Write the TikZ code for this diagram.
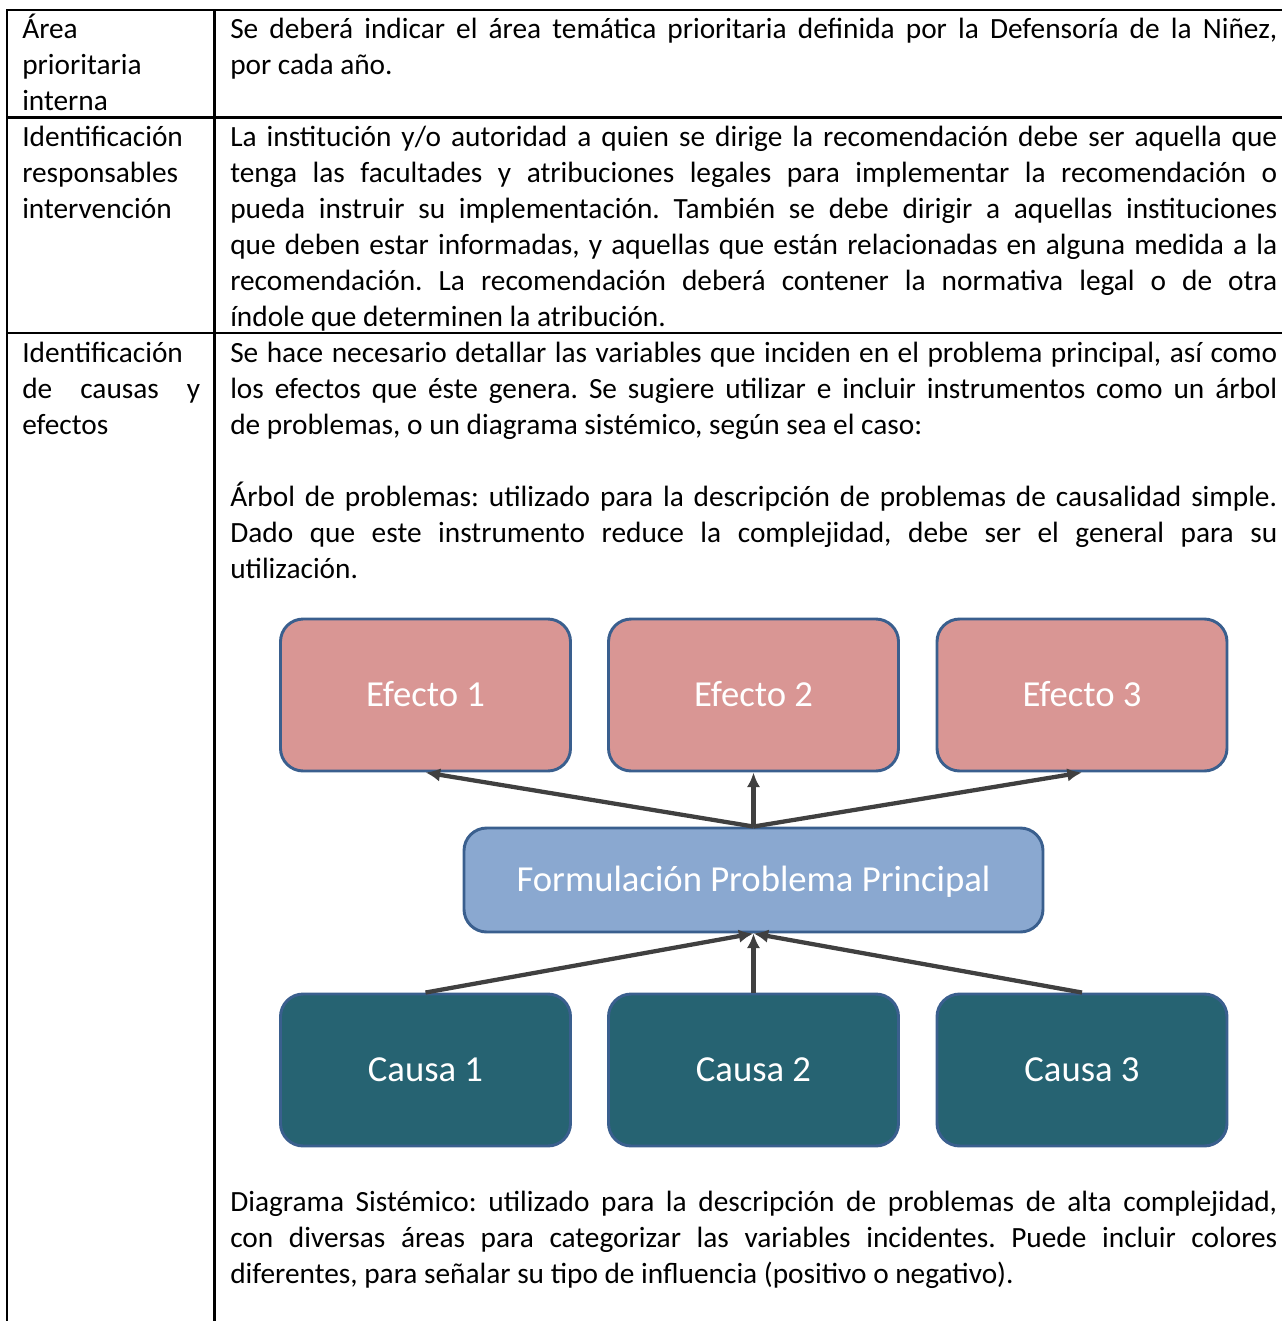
\documentclass[tikz,border=0pt]{standalone}
\usepackage{fontspec}
\setmainfont{Carlito}
\usetikzlibrary{arrows.meta}
\definecolor{effill}{HTML}{D99694}
\definecolor{pfill}{HTML}{8AA8D0}
\definecolor{cfill}{HTML}{266372}
\definecolor{bordc}{HTML}{3A5F8E}
\definecolor{arrc}{HTML}{404040}
\frenchspacing
\newcommand{\bodyfont}{\fontsize{22pt}{27pt}\selectfont\frenchspacing}
\newcommand{\boxfont}{\fontsize{27.5pt}{32pt}\selectfont}
\newcommand{\jR}[1]{\hbox to 785.25pt{#1}}
\newcommand{\jL}[1]{\hbox to 133.5pt{#1}}
\tikzset{
  txt/.style={anchor=base west,inner sep=0pt,font=\bodyfont},
  rule/.style={line width=1.8pt,black},
  tbox/.style={draw=bordc,line width=2.2pt,rounded corners=17pt,text=white,
    font=\boxfont,minimum width=217.5pt,minimum height=114pt,inner sep=0pt,
    text height=17.7pt,text depth=0pt},
  effbox/.style={tbox,fill=effill},
  causebox/.style={tbox,fill=cfill},
  probbox/.style={tbox,fill=pfill,minimum width=434.25pt,minimum height=78pt},
  conn/.style={draw=arrc,line width=3.2pt,-{Latex[length=11pt,width=10pt]}}
}
\begin{document}
\begin{tikzpicture}[x=0.75pt,y=-0.75pt]
\useasboundingbox (0,0) rectangle (1282,1321);
% table rules
\draw[rule] (6,10) -- (1282,10);
\draw[rule] (6,117.5) -- (1282,117.5);
\draw[rule] (6,333) -- (1282,333);
\draw[rule] (7,10) -- (7,1321);
\draw[rule] (214.5,10) -- (214.5,1321);
% row 1
\node[txt] (a1) at (22,38) {Área};
\node[txt] (a2) at (22,74) {prioritaria};
\node[txt] (a3) at (22,110) {interna};
\node[txt] (b1) at (230,38) {\jR{Se deberá indicar el área temática prioritaria definida por la Defensoría de la Niñez,}};
\node[txt] (b2) at (230,74) {por cada año.};
% row 2
\node[txt] (c1) at (22,146) {Identificación};
\node[txt] (c2) at (22,182) {responsables};
\node[txt] (c3) at (22,218) {intervención};
\node[txt] (d1) at (230,146) {\jR{La institución y/o autoridad a quien se dirige la recomendación debe ser aquella que}};
\node[txt] (d2) at (230,182) {\jR{tenga las facultades y atribuciones legales para implementar la recomendación o}};
\node[txt] (d3) at (230,218) {\jR{pueda instruir su implementación. También se debe dirigir a aquellas instituciones}};
\node[txt] (d4) at (230,254) {\jR{que deben estar informadas, y aquellas que están relacionadas en alguna medida a la}};
\node[txt] (d5) at (230,290) {\jR{recomendación. La recomendación deberá contener la normativa legal o de otra}};
\node[txt] (d6) at (230,326) {índole que determinen la atribución.};
% row 3
\node[txt] (e1) at (22,362) {Identificación};
\node[txt] (e2) at (22,398) {\jL{de causas y}};
\node[txt] (e3) at (22,434) {efectos};
\node[txt] (f1) at (230,362) {\jR{Se hace necesario detallar las variables que inciden en el problema principal, así como}};
\node[txt] (f2) at (230,398) {\jR{los efectos que éste genera. Se sugiere utilizar e incluir instrumentos como un árbol}};
\node[txt] (f3) at (230,434) {de problemas, o un diagrama sistémico, según sea el caso:};
\node[txt] (f4) at (230,506) {\jR{Árbol de problemas: utilizado para la descripción de problemas de causalidad simple.}};
\node[txt] (f5) at (230,542) {\jR{Dado que este instrumento reduce la complejidad, debe ser el general para su}};
\node[txt] (f6) at (230,578) {utilización.};
% diagram
\node[effbox] (ef1) at (425.5,695) {Efecto 1};
\node[effbox] (ef2) at (753.5,695) {Efecto 2};
\node[effbox] (ef3) at (1082,695) {Efecto 3};
\node[probbox] (prob) at (753.5,880) {Formulación Problema Principal};
\node[causebox] (ca1) at (425.5,1070) {Causa 1};
\node[causebox] (ca2) at (753.5,1070) {Causa 2};
\node[causebox] (ca3) at (1082,1070) {Causa 3};
\draw[conn] (prob.north) -- (ef1.south);
\draw[conn] (prob.north) -- (ef2.south);
\draw[conn] (prob.north) -- (ef3.south);
\draw[conn] (ca1.north) -- (prob.south);
\draw[conn] (ca2.north) -- (prob.south);
\draw[conn] (ca3.north) -- (prob.south);
% bottom paragraph
\node[txt] (g1) at (230,1211) {\jR{Diagrama Sistémico: utilizado para la descripción de problemas de alta complejidad,}};
\node[txt] (g2) at (230,1247) {\jR{con diversas áreas para categorizar las variables incidentes. Puede incluir colores}};
\node[txt] (g3) at (230,1283) {diferentes, para señalar su tipo de influencia (positivo o negativo).};
\end{tikzpicture}
\end{document}
